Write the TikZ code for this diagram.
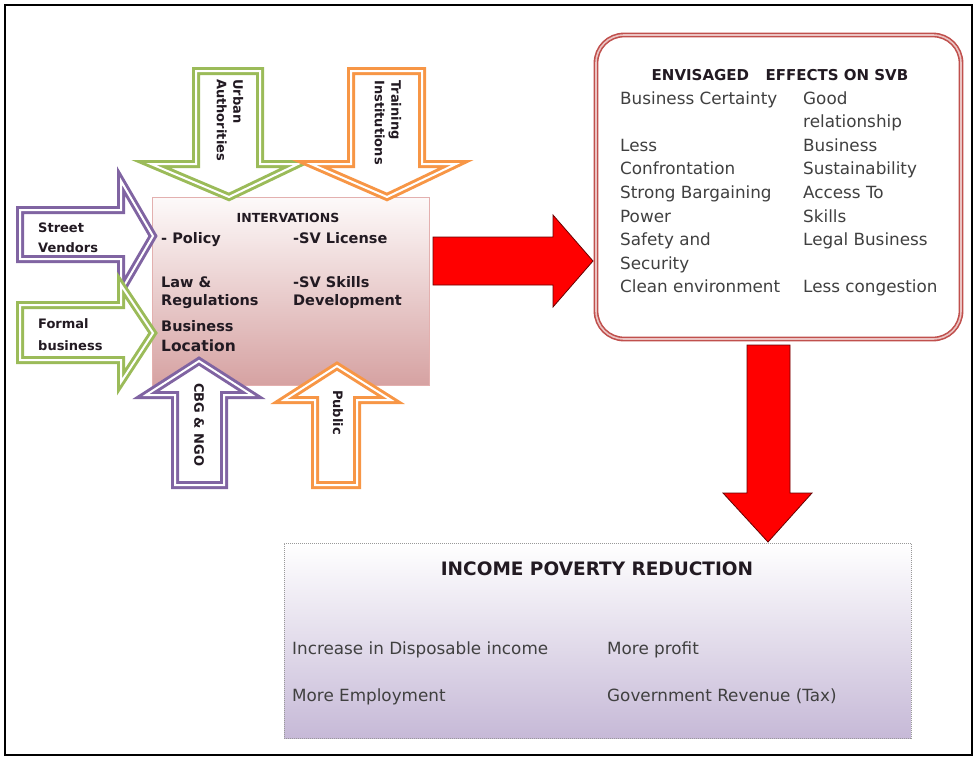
\documentclass[tikz,border=0pt]{standalone}
\usepackage{fontspec}
\setmainfont{DejaVu Sans}
\usepackage{xcolor}
\usepackage{tikz}
\usetikzlibrary{positioning,calc}
\definecolor{sgreen}{HTML}{9BBB59}
\definecolor{sorange}{HTML}{F79646}
\definecolor{spurple}{HTML}{8064A2}
\definecolor{sred}{HTML}{FF0000}
\definecolor{sbrick}{HTML}{C0504D}
\definecolor{spink}{HTML}{EBC4C3}
\definecolor{srose}{HTML}{D6A2A2}
\definecolor{slilac}{HTML}{C6B9D7}
\definecolor{stext}{HTML}{404040}
\definecolor{sdark}{HTML}{221A22}
\tikzset{
  sframe/.style={draw=black, line width=2.5pt},
  sin/.style={fill=white, line width=3pt, double=white, double distance=2pt,
              line join=miter, miter limit=20},
  sbig/.style={fill=sred, draw=black!60!sred, line width=0.8pt, line join=miter},
  sintbox/.style={rectangle, draw=sbrick!45, line width=0.6pt, top color=sbrick!3,
                  bottom color=srose, minimum width=277pt, minimum height=188pt, inner sep=0pt},
  seffbox/.style={rectangle, rounded corners=28pt, draw=sbrick, double=spink, line width=1.6pt,
                  double distance=1.6pt, fill=white, minimum width=365pt, minimum height=304pt},
  sincbox/.style={rectangle, draw=gray!80, dash pattern=on 1pt off 1pt, line width=0.8pt,
                  top color=white, bottom color=slilac, minimum width=627pt, minimum height=195pt},
  slbl/.style={anchor=base west, inner sep=0pt, text=stext, font=\fontsize{16.8}{20}\selectfont},
  sbold/.style={anchor=base west, inner sep=0pt, text=sdark, font=\bfseries\fontsize{14.5}{17}\selectfont},
  sside/.style={anchor=base west, inner sep=0pt, text=sdark, font=\bfseries\fontsize{13}{16}\selectfont},
  srot/.style={rotate=-90, anchor=west, align=left, inner sep=0pt, text=sdark,
               font=\bfseries\fontsize{13}{16.5}\selectfont},
  stitle/.style={anchor=base, inner sep=0pt, text=sdark, font=\bfseries\fontsize{15}{18}\selectfont},
}

\begin{document}
\begin{tikzpicture}[x=1pt, y=-1pt]

  \useasboundingbox (0,0) rectangle (978,761);
  \draw[sframe] (5,5) rectangle (972,755);

  % interventions box
  \node[sintbox] (interv) at (290.5,291) {};

  % small input arrows
  \draw[sin, draw=spurple] (20,210) -- (121,210) -- (121,181) -- (153,236) -- (121,291)
        -- (121,259) -- (20,259) -- cycle;                                   % street vendors
  \draw[sin, draw=sgreen] (20,305) -- (121,305) -- (121,285) -- (153,333) -- (121,382)
        -- (121,360) -- (20,360) -- cycle;                                   % formal business
  \draw[sin, draw=sgreen] (196,71) -- (260,71) -- (260,164) -- (298,164) -- (229,197)
        -- (151,164) -- (196,164) -- cycle;                                  % urban authorities
  \draw[sin, draw=sorange] (351,71) -- (422,71) -- (422,164) -- (456,164) -- (387,197)
        -- (311,164) -- (351,164) -- cycle;                                  % training institutions
  \draw[sin, draw=spurple] (175,485) -- (224,485) -- (224,395) -- (252,395) -- (199,361)
        -- (146,395) -- (175,395) -- cycle;                                  % cbg & ngo
  \draw[sin, draw=sorange] (315,485) -- (357,485) -- (357,400) -- (391,400) -- (337,366)
        -- (284,400) -- (315,400) -- cycle;                                  % public

  \node[sside] (sv1) at (38,232) {Street};
  \node[sside] (sv2) at (38,252) {Vendors};
  \node[sside] (fb1) at (38,328) {Formal};
  \node[sside] (fb2) at (38,350) {business};
  \node[srot] (urban) at (230,79) {Urban\\Authorities};
  \node[srot] (train) at (388,80) {Training\\Institutions};
  \node[srot] (cbg)   at (199,383) {CBG \& NGO};
  \node[srot] (pub)   at (338,390) {Public};

  % interventions text
  \node[anchor=base, inner sep=0pt, text=sdark, font=\bfseries\fontsize{12.5}{14}\selectfont]
        (intt) at (288,222.5) {INTERVATIONS};
  \node[sbold] (i1) at (161,243) {- Policy};
  \node[sbold] (i2) at (293,243) {-SV License};
  \node[sbold] (i3) at (161,287) {Law \&};
  \node[sbold] (i4) at (161,305) {Regulations};
  \node[sbold] (i5) at (293,287) {-SV Skills};
  \node[sbold] (i6) at (293,305) {Development};
  \node[sbold] (i7) at (161,331) {Business};
  \node[sbold, font=\bfseries\fontsize{15.5}{17}\selectfont] (i8) at (161,351) {Location};

  % envisaged effects
  \node[seffbox] (effects) at (778.5,187) {};
  \node[stitle] (efft) at (780,80.5) {ENVISAGED\hspace{1.1em}EFFECTS ON SVB};
  \foreach \t [count=\i] in {Business Certainty, , Less, Confrontation, Strong Bargaining,
                             Power, Safety and, Security, Clean environment}
    \node[slbl] (eL\i) at (620,{104+(\i-1)*23.6}) {\t};
  \foreach \t [count=\i] in {Good, relationship, Business, Sustainability, Access To,
                             Skills, Legal Business, , Less congestion}
    \node[slbl] (eR\i) at (803,{104+(\i-1)*23.6}) {\t};

  % income poverty reduction
  \node[sincbox] (income) at (597.5,640.5) {};
  \node[anchor=base, inner sep=0pt, text=sdark, font=\bfseries\fontsize{18.5}{21}\selectfont]
        (inct) at (597,575) {INCOME POVERTY REDUCTION};
  \node[slbl] (n1) at (292,654) {Increase in Disposable income};
  \node[slbl] (n2) at (607,654) {More profit};
  \node[slbl] (n3) at (292,701) {More Employment};
  \node[slbl] (n4) at (607,701) {Government Revenue (Tax)};

  % big red arrows
  \draw[sbig] (433,237) -- (553,237) -- (553,215) -- (593,261) -- (553,307) -- (553,285)
        -- (433,285) -- cycle;
  \draw[sbig] (747,345) -- (790,345) -- (790,493) -- (812,493) -- (768,542) -- (723,493)
        -- (747,493) -- cycle;

\end{tikzpicture}
\end{document}
